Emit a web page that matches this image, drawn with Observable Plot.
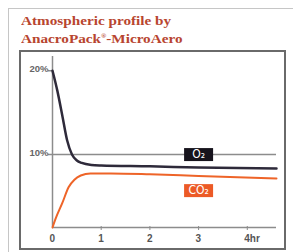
<!DOCTYPE html>
<html><head><meta charset="utf-8">
<script src="https://cdn.jsdelivr.net/npm/d3@7"></script>
<script src="https://cdn.jsdelivr.net/npm/@observablehq/plot@0.6"></script>
<style>
body{margin:0;background:#fff;}
#wrap{position:relative;width:293px;height:252px;overflow:hidden;background:#fff;}
#outer{position:absolute;left:8px;top:8px;width:300px;height:260px;border-left:1.5px solid #c6c6c6;border-top:1.5px solid #c6c6c6;}
#inner{position:absolute;left:19px;top:50px;width:263px;height:196px;border:2px solid #6a6a6a;}
#title{position:absolute;left:21px;top:13px;font-family:"Liberation Serif","Times New Roman",serif;font-weight:bold;font-size:13px;line-height:15.5px;color:#b8452f;transform:scaleX(1.17);transform-origin:0 0;white-space:nowrap;}
#title sup{font-size:6px;vertical-align:5px;}
#chart{position:absolute;left:0;top:0;}
</style></head>
<body>
<div id="wrap">
  <div id="outer"></div>
  <div id="inner"></div>
  <div id="title">Atmospheric profile by<br>AnacroPack<sup>®</sup>-MicroAero</div>
  <div id="chart"></div>
</div>
<script>
// hours and percentages
const o2Hours = [0, 0.1, 0.2, 0.3, 0.4, 0.5, 0.6, 0.8, 1.0, 2.0, 3.0, 4.6];
const o2Values = [20, 17.6, 14.7, 11.7, 10.0, 9.3, 9.0, 8.76, 8.7, 8.6, 8.45, 8.34];
const co2Hours = [0, 0.06, 0.2, 0.33, 0.45, 0.58, 0.78, 1.2, 2.0, 3.0, 4.6];
const co2Values = [1.3, 2.3, 4.2, 6.1, 7.0, 7.5, 7.75, 7.75, 7.65, 7.45, 7.15];
const yTicks = [20, 10];
const yTickLabels = ["20%", "10%"];
const xTicks = [0, 1, 2, 3, 4];
const xTickLabels = ["0", "1", "2", "3", "4hr"];
const seriesLabels = ["O₂", "CO₂"];
const labelHours = [3.0, 3.0];
const labelValues = [10, 5.7];
const xMax = 4.6;
const yBase = 1.3;
const yTop = 21.7;

const o2 = o2Hours.map((t, i) => ({t, v: o2Values[i]}));
const co2 = co2Hours.map((t, i) => ({t, v: co2Values[i]}));
const labels = seriesLabels.map((s, i) => ({s, t: labelHours[i], v: labelValues[i], c: i === 0 ? "#16131c" : "#ec5a26"}));
const rectSymbol = {draw(ctx) { ctx.rect(-14.5, -6.5, 29, 13); }};
const axisColor = "#8c8c8c";

const chart = Plot.plot({
  width: 293, height: 252,
  marginLeft: 52, marginRight: 17, marginTop: 56, marginBottom: 25,
  style: {background: "transparent", overflow: "visible"},
  x: {domain: [0, xMax], range: [52, 276], axis: null},
  y: {domain: [yBase, yTop], range: [227, 56], axis: null},
  marks: [
    Plot.ruleY([10], {x1: 0, x2: xMax, insetLeft: -4, stroke: axisColor, strokeWidth: 1.5}),
    Plot.ruleY([20], {x1: 0, x2: 0, insetLeft: -4, stroke: axisColor, strokeWidth: 1.5}),
    Plot.ruleX([0], {y1: yBase, y2: yTop, stroke: axisColor, strokeWidth: 1.5}),
    Plot.ruleY([yBase], {x1: 0, x2: xMax, stroke: axisColor, strokeWidth: 1.5}),
    Plot.ruleX(xTicks.slice(1), {y1: yBase, y2: yBase, insetBottom: -3, insetTop: -1, stroke: axisColor, strokeWidth: 1}),
    Plot.text(xTicks, {x: d => d, y: yBase, text: (d, i) => xTickLabels[i], textAnchor: "start", dx: -3, dy: 11, fill: "#555", fontSize: 10, fontWeight: "bold", fontFamily: "Liberation Sans, Arial, sans-serif"}),
    Plot.text(yTicks, {x: 0, y: d => d, text: (d, i) => yTickLabels[i], textAnchor: "end", dx: -4, lineAnchor: "bottom", dy: 1, fill: "#666", fontSize: 9.5, fontWeight: "bold", letterSpacing: 0.5, fontFamily: "Liberation Sans, Arial, sans-serif"}),
    Plot.line(co2, {x: "t", y: "v", curve: "monotone-x", stroke: "#ee6428", strokeWidth: 2}),
    Plot.line(o2, {x: "t", y: "v", curve: "monotone-x", stroke: "#2e2a3a", strokeWidth: 2.5}),
    Plot.dot(labels, {x: "t", y: "v", symbol: rectSymbol, fill: "c", stroke: null}),
    Plot.text(labels, {x: "t", y: "v", text: "s", fill: "white", fontSize: 12, fontFamily: "DejaVu Sans Condensed, Liberation Sans, sans-serif"})
  ]
});
document.getElementById("chart").appendChild(chart);
</script>
</body></html>
